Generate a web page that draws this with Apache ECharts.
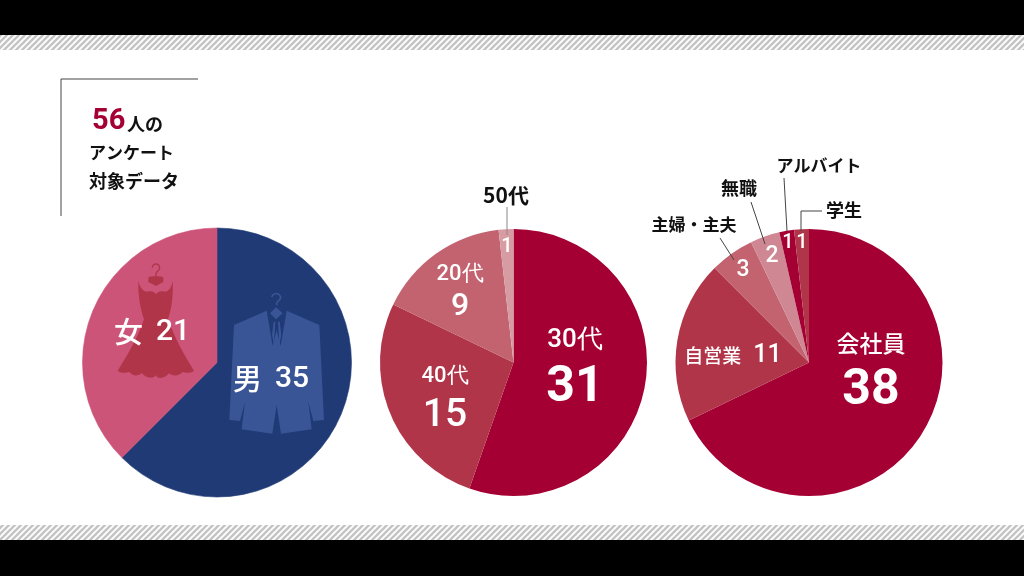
<!DOCTYPE html>
<html><head><meta charset="utf-8">
<style>html,body{margin:0;padding:0;background:#fff}#c{width:1024px;height:576px}</style>
<script src="https://cdn.jsdelivr.net/npm/echarts@6/dist/echarts.min.js"></script>
</head><body><div id="c"></div>
<script>
const genderNames=['男','女'];
const genderValues=[35,21];
const genderColors=['#203a76','#cc5479'];
const ageNames=['30代','40代','20代','50代'];
const ageValues=[31,15,9,1];
const ageColors=['#a50034','#b13549','#c2636f','#d79ba4'];
const jobNames=['会社員','自営業','主婦・主夫','無職','アルバイト','学生'];
const jobValues=[38,11,3,2,1,1];
const jobColors=['#a50034','#b13549','#c2636f','#cf8793','#a50034','#b13549'];

const FONT='"Noto Sans CJK JP","Noto Sans",sans-serif';
const NUM='Roboto,"Noto Sans",sans-serif';

function hatch(){
  const s=6,c=document.createElement('canvas');c.width=s;c.height=s;
  const g=c.getContext('2d');g.fillStyle='#fff';g.fillRect(0,0,s,s);
  g.strokeStyle='#c4c4c4';g.lineWidth=2.4;
  [[-s,s*1,s,-s],[0,s,s,0],[0,2*s,2*s,0]].forEach(a=>{g.beginPath();g.moveTo(a[0],a[1]);g.lineTo(a[2],a[3]);g.stroke();});
  return c;
}
const pattern={image:hatch(),repeat:'repeat'};

function data(names,values,colors,seam){
  return names.map((n,i)=>({name:n,value:values[i],
    itemStyle:seam?{color:colors[i],borderColor:colors[i],borderWidth:0.6}:{color:colors[i]}}));
}
function placed(spots){
  return p=>{const s=spots[p.dataIndex];return {x:s[0],y:s[1],align:'center',verticalAlign:'middle'};};
}
const pieBase={type:'pie',startAngle:90,clockwise:true,animation:false,silent:true,
  labelLine:{show:false},emphasis:{disabled:true}};

const W={color:'#fff'};
const richOf={
  a1:{...W,fontFamily:FONT,fontSize:29,fontWeight:500,padding:[0,13,0,0]},
  n1:{...W,fontFamily:NUM,fontSize:30,fontWeight:500},
  t25:{...W,fontFamily:NUM,fontSize:26,fontWeight:500,lineHeight:34},
  t23:{...W,fontFamily:FONT,fontSize:23,fontWeight:500,lineHeight:34},
  n50:{...W,fontFamily:NUM,fontSize:50,fontWeight:700,lineHeight:62},
  t22:{...W,fontFamily:NUM,fontSize:22,fontWeight:500,lineHeight:30},
  n40:{...W,fontFamily:NUM,fontSize:39,fontWeight:500,lineHeight:50},
  n32:{...W,fontFamily:NUM,fontSize:32,fontWeight:500,lineHeight:36},
  n20:{...W,fontFamily:NUM,fontSize:20,fontWeight:500},
  n23:{...W,fontFamily:NUM,fontSize:23,fontWeight:500},
  t19:{...W,fontFamily:FONT,fontSize:19,fontWeight:500,padding:[0,12,0,0]},
  n25:{...W,fontFamily:NUM,fontSize:25,fontWeight:500}
};
const ageStyles=[['t25','n50'],['t22','n40'],['t22','n32'],[null,'n20']];
const ageLabel=p=>{const s=ageStyles[p.dataIndex];
  return (s[0]?`{${s[0]}|${p.name}}\n`:'')+`{${s[1]}|${p.value}}`;};
const jobLabel=p=>{
  if(p.dataIndex===0) return `{t23|${p.name}}\n{n50|${p.value}}`;
  if(p.dataIndex===1) return `{t19|${p.name}}{n25|${p.value}}`;
  return `{${p.dataIndex<4?'n23':'n20'}|${p.value}}`;
};

function outer(text,x,y,size,color){
  return {type:'text',z:20,style:{text,x,y,align:'center',verticalAlign:'middle',
    font:`700 ${size}px ${FONT}`,fill:color||'#111'}};
}
function lead(pts,color){
  return {type:'polyline',z:20,shape:{points:pts},style:{stroke:color||'#444',lineWidth:1,fill:null}};
}
const icon={x:70,y:220,scaleX:1/3,scaleY:1/3,z:6};
let artCount=0;
function art(d,fill,stroke,w){
  const name='clothing'+(artCount++);
  echarts.graphic.registerShape(name,echarts.graphic.extendPath(d,{}));
  return Object.assign({type:name,shape:{},
    style:{fill:fill||null,stroke:stroke||null,lineWidth:w||0}},icon);
}
const SUIT='#3a5595',NAVY='#203a76',DRESS='#b13549';
const suitBody='M492 315 L590 272 L650 272 L748 315 L762 600 L730 603 L715 545 L725 628 L633 641 L620 555 L607 641 L515 628 L525 545 L510 603 L478 600 Z';
const dressBody='M205 182 C210 205 222 218 238 214 C246 212 252 216 258 222 C264 216 270 212 278 214 C294 218 304 205 308 182 '+
 'C310 225 306 262 294 298 C312 350 345 410 372 452 C360 462 345 458 338 456 C325 470 305 468 297 460 C285 476 262 478 258 466 '+
 'C250 478 225 474 216 460 C205 468 190 470 178 456 C170 458 155 462 143 452 C170 410 205 350 222 298 C210 262 204 225 205 182 Z';

const graphicEls=[
  {type:'rect',z:0,shape:{x:0,y:0,width:1024,height:35},style:{fill:'#000'}},
  {type:'rect',z:0,shape:{x:0,y:35,width:1024,height:15},style:{fill:pattern}},
  {type:'rect',z:0,shape:{x:0,y:525,width:1024,height:15},style:{fill:pattern}},
  {type:'rect',z:0,shape:{x:0,y:540,width:1024,height:36},style:{fill:'#000'}},
  {type:'polyline',z:1,shape:{points:[[198,79],[61,79],[61,216]]},style:{stroke:'#444',lineWidth:1,fill:null}},
  {type:'text',z:20,style:{text:'56',x:92,y:122,align:'left',verticalAlign:'middle',font:`700 29px ${NUM}`,fill:'#a50034'}},
  {type:'text',z:20,style:{text:'人の',x:127,y:124,align:'left',verticalAlign:'middle',font:`700 18px ${FONT}`,fill:'#111'}},
  {type:'text',z:20,style:{text:'アンケート',x:89,y:153,align:'left',verticalAlign:'middle',font:`700 17px ${FONT}`,fill:'#111'}},
  {type:'text',z:20,style:{text:'対象データ',x:89,y:181,align:'left',verticalAlign:'middle',font:`700 18px ${FONT}`,fill:'#111'}},
  art(suitBody,SUIT),
  art('M620 262 L620 250 C620 243 632 243 632 231 A14 14 0 0 0 605 231','','#3a5595',5),
  art('M590 273 L620 255 L650 273 L632 378 L620 330 L608 378 Z',NAVY),
  art('M602 305 L620 318 L638 305 L633 350 L630 368 L623 330 L617 330 L610 368 L607 350 Z',NAVY),
  art('M600 280 L618 262 L638 280 L618 298 Z',SUIT),
  art('M611 305 L616 305 L612 375 L606 345 Z M629 305 L624 305 L628 375 L634 345 Z',SUIT),
  art(dressBody,DRESS),
  art('M235 172 C245 168 270 168 280 172 L280 186 L258 198 L235 186 Z',DRESS),
  art('M258 170 L258 160 C259 154 269 152 269 143 A11 11 0 0 0 247 143','','#b13549',4),
  outer(ageNames[3],506,195,21),
  lead([[507,207],[507,235]],'#888'),
  outer(jobNames[2],694,225,17),
  lead([[720,238],[734,260]]),
  outer(jobNames[3],739,188,18),
  lead([[751,202],[765,244]]),
  outer(jobNames[4],819,166,17),
  lead([[784,178],[787,231]]),
  outer(jobNames[5],844,210,18),
  lead([[822,211],[801,211],[801,231]])
];

const chart=echarts.init(document.getElementById('c'),null,{renderer:'canvas'});
chart.setOption({
  backgroundColor:'#fff',
  graphic:{elements:graphicEls},
  series:[
    Object.assign({},pieBase,{name:'性別',z:2,center:[217,362.5],radius:[0,134.5],
      data:data(genderNames,genderValues,genderColors,true),label:{show:false}}),
    Object.assign({},pieBase,{name:'性別ラベル',z:10,center:[217,362.5],radius:[0,134.5],
      data:data(genderNames,genderValues,['rgba(0,0,0,0)','rgba(0,0,0,0)']),
      label:{show:true,position:'inside',formatter:p=>`{a1|${p.name}}{n1|${p.value}}`,rich:richOf},
      labelLayout:placed([[271,379],[152,332]])}),
    Object.assign({},pieBase,{name:'年代',z:2,center:[513.5,362.5],radius:[0,133.5],
      data:data(ageNames,ageValues,ageColors),
      label:{show:true,position:'inside',formatter:ageLabel,rich:richOf},
      labelLayout:placed([[575,371],[445,401],[460,292],[507,247]])}),
    Object.assign({},pieBase,{name:'職業',z:2,center:[809,362.5],radius:[0,133.5],
      data:data(jobNames,jobValues,jobColors),
      label:{show:true,position:'inside',formatter:jobLabel,rich:richOf},
      labelLayout:placed([[871,374],[733,356],[743,270],[772,256],[788,243],[802,243]])})
  ]
});
</script></body></html>
